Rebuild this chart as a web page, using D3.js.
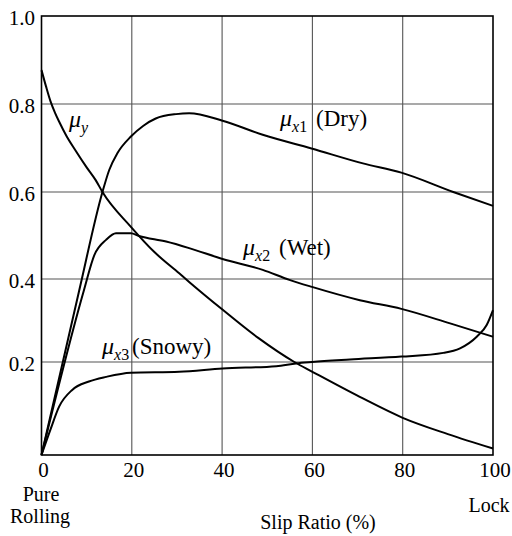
<!DOCTYPE html>
<html>
<head>
<meta charset="utf-8">
<script src="https://cdn.jsdelivr.net/npm/d3@7/dist/d3.min.js"></script>
<style>
  html, body { margin: 0; padding: 0; background: #fff; }
  svg text { font-family: "Liberation Serif", "Times New Roman", serif; fill: #000; }
</style>
</head>
<body>
<svg id="chart" width="512" height="536" font-family="Liberation Serif, serif"></svg>
<script>
// ---- data ----
const xTicks = [0, 20, 40, 60, 80, 100];
const yTicks = [0.2, 0.4, 0.6, 0.8, 1.0];
const yTickLabels = ["0.2", "0.4", "0.6", "0.8", "1.0"];

const muYSlip  = [0, 1, 2, 3, 4, 5.5, 7.5, 10, 12, 13.5, 19.8, 25, 30.5, 32.7, 40, 48, 56, 60, 70.5, 80, 90, 100];
const muYVal   = [0.877, 0.84, 0.806, 0.78, 0.758, 0.728, 0.695, 0.656, 0.627, 0.60, 0.52, 0.462, 0.413, 0.393, 0.327, 0.258, 0.20, 0.179, 0.125, 0.080, 0.045, 0.014];

const drySlip  = [0, 8.3, 13.5, 15, 16.8, 19.8, 22.5, 25.3, 29.8, 32.7, 40.1, 49, 59.8, 71.2, 79.7, 91.2, 100];
const dryVal   = [0, 0.37, 0.60, 0.65, 0.688, 0.726, 0.75, 0.767, 0.777, 0.779, 0.762, 0.730, 0.699, 0.665, 0.644, 0.60, 0.568];

const wetSlip  = [0, 9.4, 11.7, 14.3, 16.5, 19.8, 21.6, 27.6, 32.7, 40.1, 49, 54.9, 59.9, 70.5, 79.7, 90.5, 100];
const wetVal   = [0, 0.373, 0.455, 0.49, 0.505, 0.505, 0.499, 0.486, 0.471, 0.446, 0.421, 0.398, 0.381, 0.349, 0.328, 0.293, 0.261];

const snowSlip = [0, 2, 3.9, 6.8, 10.5, 14.3, 19.8, 30.5, 40.1, 52, 56.4, 59.9, 68.3, 79.7, 89, 92.7, 96.4, 98.6, 100];
const snowVal  = [0, 0.055, 0.104, 0.14, 0.158, 0.168, 0.177, 0.179, 0.186, 0.191, 0.197, 0.2, 0.206, 0.213, 0.222, 0.233, 0.261, 0.289, 0.325];

const series = [
  { name: "muY",  slip: muYSlip,  val: muYVal },
  { name: "dry",  slip: drySlip,  val: dryVal },
  { name: "wet",  slip: wetSlip,  val: wetVal },
  { name: "snow", slip: snowSlip, val: snowVal }
];

const FONT = "Liberation Serif, Times New Roman, serif";

// ---- scales ----
const svg = d3.select("#chart");
const x = d3.scaleLinear().domain([0, 100]).range([41.5, 493]);
// scanned figure: grid spacing is slightly uneven, use a polylinear scale
const y = d3.scaleLinear().domain([0, 0.2, 0.4, 0.6, 0.8, 1.0]).range([455, 362, 279, 192, 104, 16]);

// ---- grid ----
svg.append("g").selectAll("line").data(xTicks.filter(d => d > 0 && d < 100)).enter()
  .append("line")
  .attr("x1", d => x(d)).attr("x2", d => x(d))
  .attr("y1", y(1)).attr("y2", y(0))
  .attr("stroke", "#555").attr("stroke-width", 1.1);
svg.append("g").selectAll("line").data(yTicks.filter(d => d < 1)).enter()
  .append("line")
  .attr("x1", x(0)).attr("x2", x(100))
  .attr("y1", d => y(d)).attr("y2", d => y(d))
  .attr("stroke", "#555").attr("stroke-width", 1.1);

// ---- frame ----
svg.append("rect")
  .attr("x", x(0)).attr("y", y(1))
  .attr("width", x(100) - x(0)).attr("height", y(0) - y(1))
  .attr("fill", "none").attr("stroke", "#000").attr("stroke-width", 1.6);

// ---- tick labels ----
svg.append("g").selectAll("text").data(xTicks).enter()
  .append("text")
  .attr("font-family", FONT)
  .attr("x", d => x(d) + 2).attr("y", 477)
  .attr("text-anchor", "middle").attr("font-size", 21)
  .text(d => d);
svg.append("g").selectAll("text").data(yTicks).enter()
  .append("text")
  .attr("font-family", FONT)
  .attr("x", 35).attr("y", d => y(d) + 9)
  .attr("text-anchor", "end").attr("font-size", 21)
  .text((d, i) => yTickLabels[i]);

// ---- curves ----
const line = d3.line()
  .x(d => x(d[0])).y(d => y(d[1]))
  .curve(d3.curveMonotoneX);
svg.append("g").selectAll("path").data(series).enter()
  .append("path")
  .attr("d", s => line(s.slip.map((v, i) => [v, s.val[i]])))
  .attr("fill", "none").attr("stroke", "#000").attr("stroke-width", 2);

// ---- curve labels ----
function muLabel(px, py, sub, rest, restX) {
  const t = svg.append("text").attr("font-family", FONT).attr("x", px).attr("y", py).attr("font-size", 24);
  t.append("tspan").attr("font-style", "italic").text("\u03bc");
  const s = t.append("tspan").attr("dy", 6).attr("font-size", 16);
  s.append("tspan").attr("font-style", "italic").text(sub[0]);
  if (sub.length > 1) s.append("tspan").text(sub.slice(1));
  if (rest) t.append("tspan").attr("x", restX).attr("dy", -6).attr("font-size", 23).text(rest);
}
muLabel(69, 127, "y", null, 0);
muLabel(280, 126, "x1", "(Dry)", 316);
muLabel(243, 255, "x2", "(Wet)", 279);
muLabel(102, 354, "x3", "(Snowy)", 132);

// ---- axis texts ----
function label(tx, ty, txt) {
  svg.append("text").attr("font-family", FONT).attr("x", tx).attr("y", ty)
    .attr("text-anchor", "middle").attr("font-size", 20).text(txt);
}
label(41, 501, "Pure");
label(40, 523, "Rolling");
label(489, 512, "Lock");
label(318, 529, "Slip Ratio (%)");
</script>
</body>
</html>
